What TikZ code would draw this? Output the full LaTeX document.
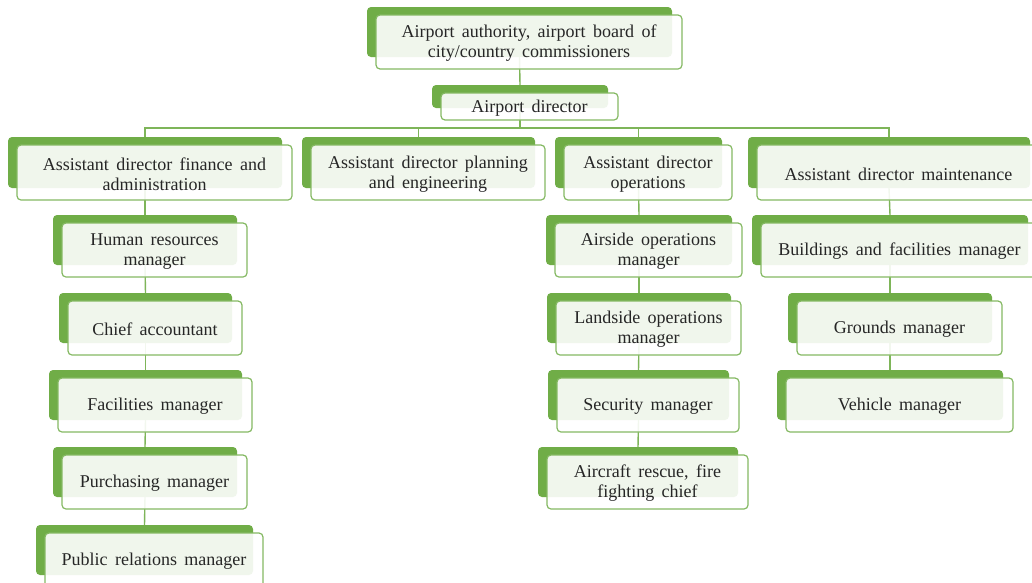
\documentclass[tikz,border=0pt]{standalone}
\usepackage{fontspec}
\setmainfont{Liberation Serif}[WordSpace=1.65]
\usetikzlibrary{backgrounds}
\definecolor{orggreen}{HTML}{70AD47}
\definecolor{orgtext}{HTML}{262626}
\pgfdeclarelayer{paper}
\pgfsetlayers{paper,background,main}
\tikzset{
  backbox/.style={fill=orggreen, rounded corners=4pt, inner sep=0pt, outer sep=0pt},
  frontbox/.style={draw=orggreen!85, line width=1.2pt, fill=white, fill opacity=0.9,
    rounded corners=4pt, inner sep=0pt, outer sep=0pt},
  cardtext/.style={inner sep=0pt, align=center, text=orgtext,
    font=\fontsize{18}{20}\selectfont},
  link/.style={draw=orggreen!90, line width=1.4pt}
}
% \orgunit{name}{left}{top}{right}{bottom}{label}: green tab, offset card, label
\newcommand\orgunit[6]{%
  \node[backbox, minimum width={#4-#2}, minimum height={#5-#3}]
    (#1) at ({(#2+#4)/2},{(#3+#5)/2}) {};
  \node[frontbox, minimum width={#4-#2+1}, minimum height={#5-#3+4}]
    (#1-f) at ({(#2+#4)/2+9.5},{(#3+#5)/2+10}) {};
  \node[cardtext] (#1-t) at ([yshift=-1.5pt]#1-f.center) {#6};%
}
\begin{document}
\begin{tikzpicture}[x=1pt, y=-1pt]
\useasboundingbox (0,0) rectangle (1032,582);
\clip (0,0) rectangle (1032,582);
\begin{pgfonlayer}{paper}
  \fill[white] (0,0) rectangle (1032,582);
\end{pgfonlayer}

% top levels
\orgunit{board}{367}{7}{672}{57}{Airport authority, airport board of\\city/country commissioners}
\orgunit{dir}{432}{85}{608}{108}{Airport director}

% assistant directors
\orgunit{fin}{8}{137}{282}{188}{Assistant director finance and\\administration}
\orgunit{plan}{302}{137}{535}{188}{Assistant director planning\\and engineering}
\orgunit{ops}{555}{137}{722}{188}{Assistant director\\operations}
\orgunit{mnt}{748}{137}{1030}{188}{Assistant director maintenance}

% finance and administration
\orgunit{hr}{53}{215}{237}{265}{Human resources\\manager}
\orgunit{chief}{59}{293}{232}{343}{Chief accountant}
\orgunit{fac}{49}{370}{242}{420}{Facilities manager}
\orgunit{pur}{53}{447}{237}{497}{Purchasing manager}
\orgunit{pr}{36}{525}{253}{575}{Public relations manager}

% operations
\orgunit{air}{546}{215}{732}{265}{Airside operations\\manager}
\orgunit{land}{547}{293}{731}{343}{Landside operations\\manager}
\orgunit{sec}{548}{370}{729}{420}{Security manager}
\orgunit{arc}{538}{447}{738}{497}{Aircraft rescue, fire\\fighting chief}

% maintenance
\orgunit{bld}{752}{215}{1028}{265}{Buildings and facilities manager}
\orgunit{gnd}{788}{293}{992}{343}{Grounds manager}
\orgunit{veh}{777}{370}{1003}{420}{Vehicle manager}

% connectors, kept behind the cards
\begin{pgfonlayer}{background}
  \coordinate (bar) at (520,128);
  \draw[link] (board.south) -- (dir.north);
  \draw[link] (dir.south) -- (bar);
  \draw[link] (fin.north) |- (bar);
  \draw[link] (plan.north) |- (bar);
  \draw[link] (ops.north) |- (bar);
  \draw[link] (mnt.north) |- (bar);
  \draw[link] (fin.south) -- (hr.north);
  \draw[link] (hr.south) -- (chief.north);
  \draw[link] (chief.south) -- (fac.north);
  \draw[link] (fac.south) -- (pur.north);
  \draw[link] (pur.south) -- (pr.north);
  \draw[link] (ops.south) -- (air.north);
  \draw[link] (air.south) -- (land.north);
  \draw[link] (land.south) -- (sec.north);
  \draw[link] (sec.south) -- (arc.north);
  \draw[link] (mnt.south) -- (bld.north);
  \draw[link] (bld.south) -- (gnd.north);
  \draw[link] (gnd.south) -- (veh.north);
\end{pgfonlayer}
\end{tikzpicture}
\end{document}
